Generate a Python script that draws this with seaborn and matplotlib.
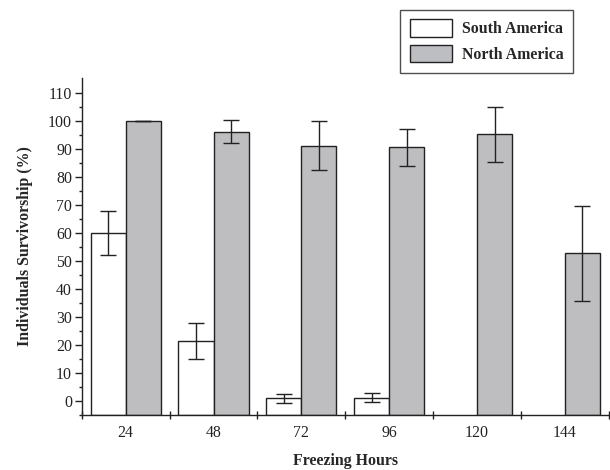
import numpy as np
import pandas as pd
import seaborn as sns
import matplotlib.pyplot as plt

# data
hours = ["24", "48", "72", "96", "120", "144"]
south_mean = [60.1, 21.4, 1.0, 1.2, np.nan, np.nan]
south_err = [7.9, 6.5, 1.6, 1.6, np.nan, np.nan]
north_mean = [100.0, 96.2, 91.2, 90.5, 95.2, 52.7]
north_err = [0.0, 4.1, 8.8, 6.7, 9.8, 17.0]
groups = ["South America", "North America"]

df = pd.DataFrame({
    "hours": hours * 2,
    "value": south_mean + north_mean,
    "err": south_err + north_err,
    "region": [groups[0]] * len(hours) + [groups[1]] * len(hours),
})

sns.set_theme(style="ticks")
plt.rcParams["font.family"] = ["Liberation Serif", "DejaVu Serif"]
plt.rcParams["font.size"] = 11.4

fig = plt.figure(figsize=(6.1, 4.7), dpi=100)
ax = fig.add_axes([0.134, 0.117, 0.864, 0.717])

base = -5
sns.barplot(data=df, x="hours", y="value", hue="region", order=hours,
            hue_order=groups, palette=["white", "#bdbec2"], edgecolor="#222222",
            linewidth=1.0, width=0.8, errorbar=None, legend=False, ax=ax)

# bars start from the bottom of the axis, as in the original
for p in ax.patches:
    h = p.get_height()
    if np.isnan(h):
        continue
    p.set_y(base)
    p.set_height(h - base)

# error bars
off = [-0.2, 0.2]
for k, g in enumerate(groups):
    sub = df[df["region"] == g]
    xs = np.arange(len(hours)) + off[k]
    ax.errorbar(xs, sub["value"], yerr=sub["err"], fmt="none", ecolor="#222222",
                elinewidth=1.0, capsize=5.5, capthick=1.0)

ax.set_ylim(base, 115.3)
ax.set_xlim(-0.5, 5.5)
ax.set_yticks(np.arange(0, 111, 10))
ax.set_yticks(np.arange(-5, 115, 5), minor=True)
ax.set_xticks(np.arange(len(hours)))
ax.set_xticklabels(hours)
ax.set_xticks(np.arange(-0.5, 6, 1), minor=True)

for s in ["top", "right"]:
    ax.spines[s].set_visible(False)
for s in ["left", "bottom"]:
    ax.spines[s].set_linewidth(1.0)
    ax.spines[s].set_color("#222222")

ax.tick_params(axis="y", which="major", direction="out", length=5, width=1.0,
               color="#222222", labelcolor="#222222", labelsize=11.4, pad=2)
ax.tick_params(axis="y", which="minor", direction="out", length=2.5, width=1.0,
               color="#222222")
ax.tick_params(axis="x", which="major", length=0, pad=7, labelsize=11.4,
               labelcolor="#222222")
ax.tick_params(axis="x", which="minor", direction="inout", length=6, width=1.0,
               color="#222222")

ax.set_xlabel("Freezing Hours", fontweight="bold", fontsize=11.4, labelpad=9)
ax.set_ylabel("Individuals Survivorship (%)", fontweight="bold", fontsize=11.4,
              labelpad=11)

handles = [plt.Rectangle((0, 0), 1, 1, facecolor=c, edgecolor="#222222", linewidth=1.0)
           for c in ["white", "#bdbec2"]]
leg = fig.legend(handles, groups, loc="upper left", bbox_to_anchor=(0.656, 0.979),
                 frameon=True, fancybox=False, edgecolor="#222222",
                 prop={"weight": "bold", "size": 11.4}, handlelength=2.7,
                 handleheight=1.3, handletextpad=0.6, borderpad=0.6,
                 labelspacing=0.5, borderaxespad=0)
leg.get_frame().set_linewidth(1.0)

fig.savefig("out.png", dpi=100)
